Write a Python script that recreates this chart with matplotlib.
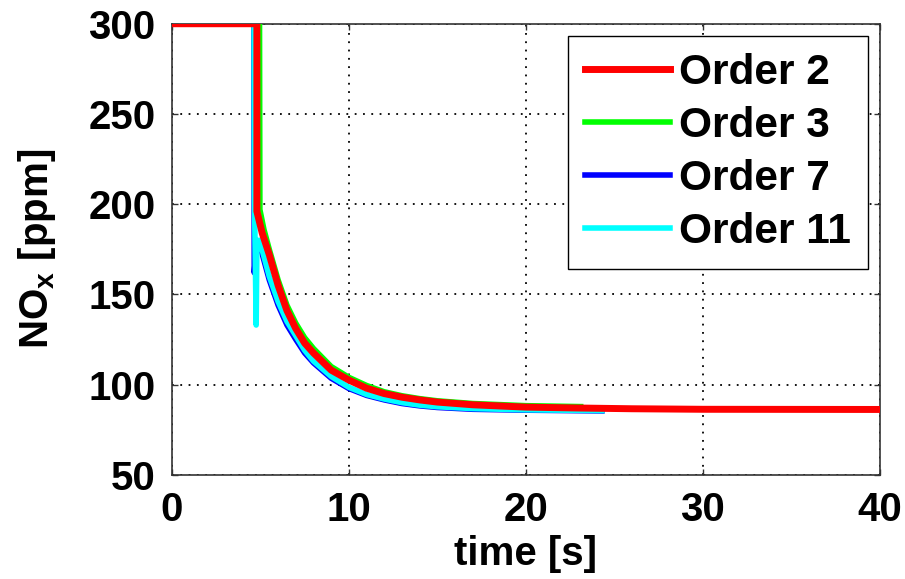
import matplotlib
matplotlib.use("Agg")
import matplotlib.pyplot as plt

# values
t_o2 = [0, 4.8, 4.8, 5.1, 5.5, 6.0, 6.5, 7.0, 7.5, 8.0, 9.0, 10, 11, 12, 13, 14, 15, 17, 20, 23, 26, 30, 40]
nox_o2 = [300, 300, 196, 184, 172, 155, 141, 131, 123, 117.5, 108, 102.5, 98, 95, 93, 91.5, 90.3, 88.8, 87.5, 87, 86.6, 86.3, 86.2]

t_o3 = [0, 4.95, 4.97, 5.2, 5.5, 6.0, 6.5, 7.0, 7.5, 8.0, 9.0, 10, 11, 12, 13, 14, 15, 17, 20, 23.1]
nox_o3 = [300, 300, 197, 186, 175, 158, 144, 134, 126, 120, 110, 104, 99.5, 96, 93.8, 92.2, 91, 89.5, 88.3, 87.8]

t_o7 = [0, 4.63, 4.65, 4.8, 5.0, 5.5, 6.0, 6.5, 7.0, 7.5, 8.0, 9.0, 10, 11, 12, 13, 14, 15, 17, 20, 24.3]
nox_o7 = [300, 300, 162, 180, 176, 158, 144, 133, 125, 117.5, 112, 103.5, 97.8, 94, 91.5, 89.5, 88.2, 87.3, 86.3, 85.8, 85.4]

t_o11 = [0, 4.64, 4.66, 4.76, 4.8, 4.95, 5.5, 6.0, 6.5, 7.0, 7.5, 8, 9, 10, 11, 12, 13, 14, 15, 17, 20, 24.3]
nox_o11 = [300, 300, 205, 133, 175, 180, 160, 146, 135, 127, 119, 113, 104.5, 98.5, 94.5, 92, 90, 88.6, 87.7, 86.7, 86.0, 85.6]

labels = ["Order 2", "Order 3", "Order 7", "Order 11"]

plt.rcParams['font.family'] = ['Liberation Sans', 'DejaVu Sans']
plt.rcParams['font.weight'] = 'bold'
plt.rcParams['font.size'] = 29

fig = plt.figure(figsize=(9.05, 5.79), dpi=100)
ax = fig.add_axes([0.190, 0.180, 0.782, 0.779])

l2, = ax.plot(t_o2, nox_o2, color='#ff0000', lw=5, zorder=6, label=labels[0])
l3, = ax.plot(t_o3, nox_o3, color='#00ff00', lw=4, zorder=3, label=labels[1])
l7, = ax.plot(t_o7, nox_o7, color='#0000ff', lw=4, zorder=4, label=labels[2])
l11, = ax.plot(t_o11, nox_o11, color='#00ffff', lw=4, zorder=5, label=labels[3])

ax.set_xlim(0, 40)
ax.set_ylim(50, 300)
ax.set_xticks([0, 10, 20, 30, 40])
ax.set_yticks([50, 100, 150, 200, 250, 300])
ax.grid(True, color='black', linestyle=(0, (1, 3.6)), linewidth=1.3)
ax.tick_params(direction='in', length=4, width=1, top=True, right=True, color='#333333')
ax.tick_params(axis='x', pad=12)
ax.tick_params(axis='y', pad=12)
for s in ax.spines.values():
    s.set_color('#333333')
    s.set_linewidth(1.2)

ax.set_xlabel("time [s]", fontweight='bold', labelpad=4)
ax.set_ylabel(r"NO$_\mathregular{x}$ [ppm]", fontweight='bold', labelpad=22)

leg = ax.legend(handles=[l2, l3, l7, l11], loc='upper right', fancybox=False,
                edgecolor='black', framealpha=1, fontsize=30.5, handlelength=2.0,
                handletextpad=0.22, labelspacing=0.31, borderaxespad=0.28,
                borderpad=0.4)
leg.get_frame().set_linewidth(1)

fig.savefig("out.png", dpi=100)
